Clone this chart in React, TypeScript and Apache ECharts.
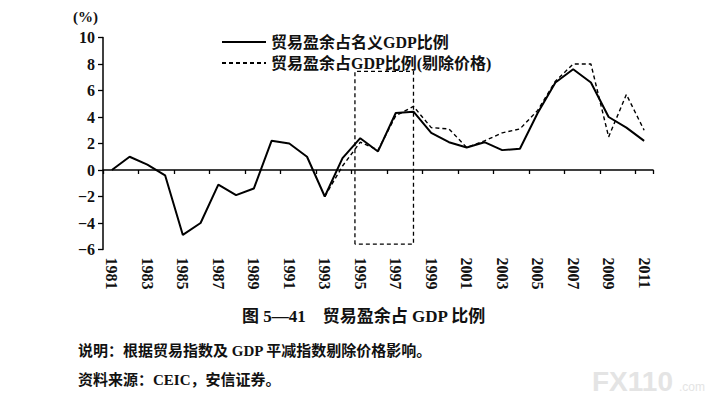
import React, { useEffect, useRef } from "react";
import * as echarts from "echarts";

const years = [
  "1981","1982","1983","1984","1985","1986","1987","1988","1989","1990",
  "1991","1992","1993","1994","1995","1996","1997","1998","1999","2000",
  "2001","2002","2003","2004","2005","2006","2007","2008","2009","2010","2011",
];
const nominal = [
  0, 1.0, 0.4, -0.4, -4.9, -4.0, -1.1, -1.9, -1.4, 2.2,
  2.0, 1.0, -2.0, 0.9, 2.4, 1.4, 4.3, 4.4, 2.8, 2.1,
  1.7, 2.1, 1.5, 1.6, 4.3, 6.6, 7.6, 6.6, 4.0, 3.2, 2.2,
];
const real = [
  null, null, null, null, null, null, null, null, null, null,
  null, null, -2.0, 0.3, 2.1, 1.5, 4.1, 4.8, 3.2, 3.1,
  1.7, 2.2, 2.8, 3.1, 4.5, 6.7, 8.0, 8.0, 2.5, 5.7, 3.0,
];
const seriesNames = ["贸易盈余占名义GDP比例", "贸易盈余占GDP比例(剔除价格)"];
const boxYears = [1994.7, 1998.0];
const boxValues = [-5.6, 7.45];
const yTicks = { min: -6, max: 10, interval: 2 };

const serif = "'Liberation Serif', 'Noto Sans CJK SC', serif";

export default function App() {
  const ref = useRef<HTMLDivElement>(null);
  useEffect(() => {
    document.body.style.margin = "0";
    const chart = echarts.init(ref.current!, null, { renderer: "svg" });
    const [x0, x1] = boxYears;
    const [b0, b1] = boxValues;
    const boxData = [[x0, b0], [x0, b1], [x1, b1], [x1, b0], [x0, b0]];
    chart.setOption({
      animation: false,
      backgroundColor: "#ffffff",
      grid: { left: 103, right: 54, top: 37.5, bottom: 152.5 },
      legend: {
        data: seriesNames,
        orient: "vertical",
        left: 216,
        top: 29,
        itemWidth: 44,
        itemHeight: 14,
        itemGap: 5,
        itemStyle: { opacity: 0 },
        textStyle: { fontFamily: serif, fontWeight: "bold", fontSize: 16, color: "#111" },
      },
      xAxis: [
        {
          type: "category",
          data: years,
          boundaryGap: true,
          axisLine: { onZero: true, lineStyle: { color: "#000", width: 1.5 } },
          axisTick: { show: true, interval: 1, length: 4, lineStyle: { color: "#000", width: 1.3 } },
          axisLabel: { show: false },
          splitLine: { show: false },
        },
        {
          type: "category",
          data: years,
          position: "bottom",
          boundaryGap: true,
          axisLine: { show: false, onZero: false },
          axisTick: { show: false },
          axisLabel: {
            interval: 1,
            rotate: -90,
            margin: 8,
            fontFamily: serif,
            fontSize: 16,
            fontWeight: "bold",
            color: "#111",
          },
          splitLine: { show: false },
        },
        {
          type: "value",
          min: 1980.5,
          max: 2011.5,
          show: false,
          splitLine: { show: false },
        },
      ],
      yAxis: {
        type: "value",
        min: yTicks.min,
        max: yTicks.max,
        interval: yTicks.interval,
        axisLine: { show: true, onZero: false, lineStyle: { color: "#000", width: 1.5 } },
        axisTick: { show: true, length: 5, lineStyle: { color: "#000", width: 1.3 } },
        axisLabel: {
          margin: 8,
          fontFamily: serif,
          fontSize: 16,
          fontWeight: "bold",
          color: "#111",
          formatter: (v: number) => String(v).replace("-", "−"),
        },
        splitLine: { show: false },
      },
      series: [
        {
          name: seriesNames[0],
          type: "line",
          xAxisIndex: 0,
          data: nominal,
          symbol: "none",
          lineStyle: { color: "#000", width: 2 },
          itemStyle: { color: "#000" },
          z: 3,
        },
        {
          name: seriesNames[1],
          type: "line",
          xAxisIndex: 0,
          data: real,
          symbol: "none",
          lineStyle: { color: "#000", width: 1.4, type: [4, 3] },
          itemStyle: { color: "#000" },
          z: 4,
        },
        {
          name: "box",
          type: "line",
          xAxisIndex: 2,
          data: boxData,
          symbol: "none",
          silent: true,
          lineStyle: { color: "#000", width: 1.3, type: [4, 3] },
          z: 2,
        },
      ],
      graphic: [
        {
          type: "text",
          left: 73,
          top: 9,
          style: { text: "(%)", font: `bold 15px ${serif}`, fill: "#111" },
        },
        {
          type: "text",
          left: 242,
          top: 308,
          style: { text: "图 5—41    贸易盈余占 GDP 比例", font: `bold 17px ${serif}`, fill: "#111" },
        },
        {
          type: "text",
          left: 78,
          top: 343,
          style: { text: "说明：根据贸易指数及 GDP 平减指数剔除价格影响。", font: `bold 15px ${serif}`, fill: "#111" },
        },
        {
          type: "text",
          left: 78,
          top: 372,
          style: { text: "资料来源：CEIC，安信证券。", font: `bold 15px ${serif}`, fill: "#111" },
        },
        {
          type: "text",
          left: 592,
          top: 367,
          style: { text: "FX110", font: "bold 28px 'Liberation Sans', sans-serif", fill: "#e4e4e4" },
        },
        {
          type: "text",
          left: 679,
          top: 381,
          style: { text: ".com", font: "12px 'Liberation Sans', sans-serif", fill: "#e4e4e4" },
        },
      ],
    });
    return () => chart.dispose();
  }, []);
  return <div ref={ref} style={{ width: 707, height: 402 }} />;
}
